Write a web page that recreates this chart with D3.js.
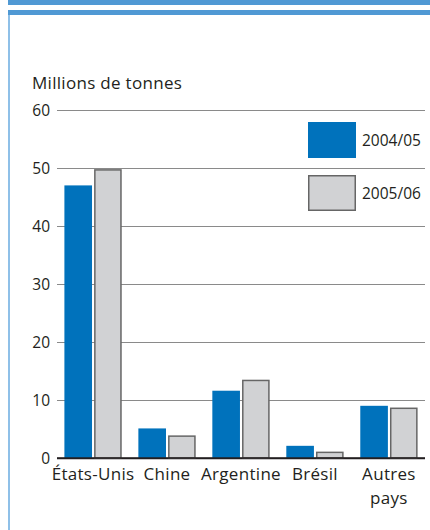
<!DOCTYPE html>
<html>
<head>
<meta charset="utf-8">
<script src="https://cdn.jsdelivr.net/npm/d3@7"></script>
<style>
  html, body { margin: 0; padding: 0; background: #fff; }
  svg { display: block; }
  text { font-family: "Open Sans", "Noto Sans", sans-serif; fill: #231f20; }
</style>
</head>
<body>
<script>
// Production by country, millions of tonnes
const categories = ["États-Unis", "Chine", "Argentine", "Brésil", "Autres pays"];
const seriesNames = ["2004/05", "2005/06"];
const values2004 = [47.0, 5.1, 11.6, 2.1, 9.0];
const values2005 = [49.8, 3.9, 13.5, 1.1, 8.7];
const yTicks = [0, 10, 20, 30, 40, 50, 60];
const unitLabel = "Millions de tonnes";

const W = 430, H = 530;
const numSize = 15.5, wordSize = 17, wordSpacing = 0.3;
const svg = d3.select("body").append("svg").attr("width", W).attr("height", H);

// Frame: two blue bands on top and a thin rule down the left side
const frameBlue = "#5099d4";
svg.append("rect").attr("x", 8).attr("y", 0).attr("width", W - 8).attr("height", 5).attr("fill", frameBlue);
svg.append("rect").attr("x", 8).attr("y", 10).attr("width", W - 8).attr("height", 5).attr("fill", frameBlue);
svg.append("rect").attr("x", 8).attr("y", 15).attr("width", 2).attr("height", H - 15).attr("fill", "#8fc0e8");

const plot = { left: 57, right: 425, top: 110, bottom: 458 };

const x0 = d3.scaleBand().domain(categories)
  .range([plot.left, plot.right]).paddingInner(0.225).paddingOuter(0.1);
const x1 = d3.scaleBand().domain(seriesNames)
  .range([0, x0.bandwidth()]).paddingInner(0.07);
const y = d3.scaleLinear().domain([0, 60]).range([plot.bottom, plot.top]);

// Gridlines and tick labels
const yAxis = d3.axisLeft(y).tickValues(yTicks).tickSize(-(plot.right - plot.left)).tickPadding(7);
const gy = svg.append("g").attr("transform", `translate(${plot.left},0)`).call(yAxis);
gy.select(".domain").remove();
gy.selectAll(".tick line").attr("stroke", "#8a8a8a").attr("stroke-width", 1.2)
  .filter(d => d === 0).attr("stroke", "#231f20").attr("stroke-width", 1.6);
gy.selectAll(".tick text").attr("font-size", numSize).attr("fill", "#231f20")
  .attr("font-family", "'Open Sans', 'Noto Sans', sans-serif").attr("dy", "0.36em");

svg.append("text").attr("x", 32).attr("y", 89).attr("font-size", wordSize)
  .attr("letter-spacing", wordSpacing).text(unitLabel);

// Bars
const series = [
  { name: seriesNames[0], vals: values2004, fill: "#0072bc", stroke: "none" },
  { name: seriesNames[1], vals: values2005, fill: "#d1d2d4", stroke: "#666" }
];
const groups = svg.append("g").selectAll("g").data(categories).join("g")
  .attr("transform", d => `translate(${x0(d)},0)`);
groups.selectAll("rect")
  .data((c, i) => series.map(s => ({ s, v: s.vals[i] })))
  .join("rect")
  .attr("x", d => x1(d.s.name) + (d.s.stroke === "none" ? 0 : 0.75))
  .attr("width", d => x1.bandwidth() - (d.s.stroke === "none" ? 0 : 1.5))
  .attr("y", d => y(d.v) + (d.s.stroke === "none" ? 0 : 0.75))
  .attr("height", d => plot.bottom - y(d.v) - (d.s.stroke === "none" ? 0 : 0.75))
  .attr("fill", d => d.s.fill)
  .attr("stroke", d => d.s.stroke)
  .attr("stroke-width", 1.5);

// Baseline redrawn on top of the bars
svg.append("line").attr("x1", plot.left).attr("x2", plot.right)
  .attr("y1", y(0)).attr("y2", y(0)).attr("stroke", "#231f20").attr("stroke-width", 1.6);

// Category labels ("Autres pays" wraps onto two lines, each its own text)
const labelLines = categories.flatMap(c =>
  (c === "Autres pays" ? c.split(" ") : [c]).map((t, i) => ({ c, t, i })));
svg.append("g").selectAll("text").data(labelLines).join("text")
  .attr("x", d => x0(d.c) + x0.bandwidth() / 2)
  .attr("y", d => 480 + d.i * 23.5)
  .attr("text-anchor", "middle")
  .attr("font-size", wordSize).attr("letter-spacing", wordSpacing)
  .text(d => d.t);

// Legend
const legend = svg.append("g").selectAll("g").data(series).join("g")
  .attr("transform", (d, i) => `translate(308,${122 + i * 53})`);
legend.append("rect")
  .attr("x", d => d.stroke === "none" ? 0 : 0.75)
  .attr("y", d => d.stroke === "none" ? 0 : 0.75)
  .attr("width", d => d.stroke === "none" ? 48 : 46.5)
  .attr("height", d => d.stroke === "none" ? 36 : 34.5)
  .attr("fill", d => d.fill).attr("stroke", d => d.stroke).attr("stroke-width", 1.5);
legend.append("text").attr("x", 54).attr("y", 24).attr("font-size", numSize).text(d => d.name);
</script>
</body>
</html>
